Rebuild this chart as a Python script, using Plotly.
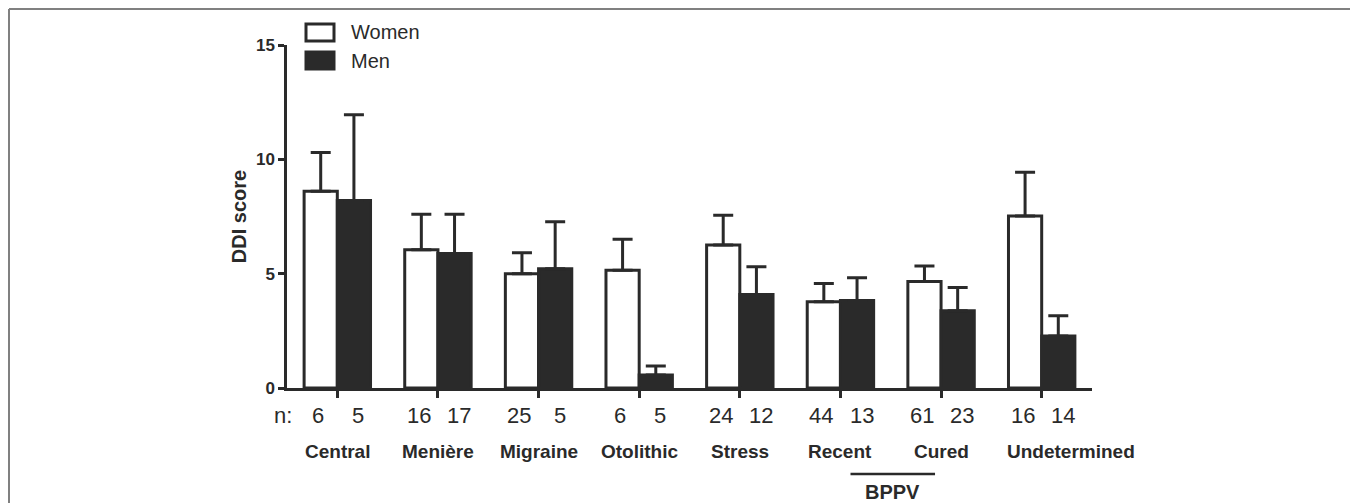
import plotly.graph_objects as go

categories = ["Central", "Menière", "Migraine", "Otolithic", "Stress", "Recent", "Cured", "Undetermined"]
women_mean = [8.6, 6.05, 5.0, 5.15, 6.25, 3.77, 4.66, 7.52]
women_upper = [10.3, 7.6, 5.92, 6.5, 7.55, 4.57, 5.33, 9.43]
men_mean = [8.2, 5.88, 5.22, 0.57, 4.09, 3.83, 3.38, 2.27]
men_upper = [11.95, 7.6, 7.27, 0.96, 5.3, 4.82, 4.4, 3.16]
women_n = [6, 16, 25, 6, 24, 44, 61, 16]
men_n = [5, 17, 5, 5, 12, 13, 23, 14]
series_names = ["Women", "Men"]
group_label = "BPPV"
group_members = ["Recent", "Cured"]

# page body has an 8px margin: build the figure so that it lands where the reference is
OFF = 8
W, H = 1358 - OFF, 503 - OFF
L, R, T, B = 287 - OFF, 266, 45 - OFF, 115
PW, PH = W - L - R, H - T - B
INK = "#2a2a2a"
FRAME = "#808080"
FONT = "Arial, Liberation Sans, Helvetica, sans-serif"


def px(xp):
    return (xp - OFF - L) / PW


def py(yp):
    return (H - B - (yp - OFF)) / PH


women_err = [u - m for u, m in zip(women_upper, women_mean)]
men_err = [u - m for u, m in zip(men_upper, men_mean)]
xi = list(range(len(categories)))

fig = go.Figure()
fig.add_trace(go.Bar(
    x=xi, y=women_mean, name=series_names[0],
    marker=dict(color="white", line=dict(color=INK, width=3)),
    error_y=dict(type="data", array=women_err, arrayminus=[0] * len(xi), symmetric=False,
                 color=INK, thickness=3, width=10),
    showlegend=False,
))
fig.add_trace(go.Bar(
    x=xi, y=men_mean, name=series_names[1],
    marker=dict(color=INK, line=dict(color=INK, width=3)),
    error_y=dict(type="data", array=men_err, arrayminus=[0] * len(xi), symmetric=False,
                 color=INK, thickness=3, width=10),
    showlegend=False,
))

annotations = []
shapes = []
# n counts
annotations.append(dict(text="n:", x=px(283), y=py(415), xref="paper", yref="paper",
                        showarrow=False, font=dict(size=22, color=INK), xanchor="center", yanchor="middle"))
for i in xi:
    annotations.append(dict(text=str(women_n[i]), x=i - 0.19, y=py(415), xref="x", yref="paper",
                            showarrow=False, font=dict(size=22, color=INK), xanchor="center", yanchor="middle"))
    annotations.append(dict(text=str(men_n[i]), x=i + 0.21, y=py(415), xref="x", yref="paper",
                            showarrow=False, font=dict(size=22, color=INK), xanchor="center", yanchor="middle"))

# category names (the last one is nudged right, as in the original)
for i, c in enumerate(categories):
    annotations.append(dict(text="<b>" + c + "</b>", x=i, y=py(451), xref="x", yref="paper",
                            xshift=29 if i == len(categories) - 1 else 0,
                            showarrow=False, font=dict(size=19, color=INK),
                            xanchor="center", yanchor="middle"))

# BPPV group bracket
gi = [categories.index(c) for c in group_members]
shapes.append(dict(type="line", xref="x", yref="paper", x0=gi[0] + 0.1, x1=gi[1] - 0.06,
                   y0=py(474), y1=py(474), line=dict(color=INK, width=2.5)))
annotations.append(dict(text="<b>" + group_label + "</b>", x=(gi[0] + gi[1]) / 2 + 0.02, y=py(492),
                        xref="x", yref="paper", showarrow=False,
                        font=dict(size=20, color=INK), xanchor="center", yanchor="middle"))

# Legend (manual)
legend_items = [(series_names[0], "white", 24, 41, 32), (series_names[1], INK, 52, 69, 61)]
for name, fill, y0, y1, yc in legend_items:
    shapes.append(dict(type="rect", xref="paper", yref="paper", x0=px(306), x1=px(334),
                       y0=py(y1), y1=py(y0), fillcolor=fill, line=dict(color=INK, width=3)))
    annotations.append(dict(text=name, x=px(349), y=py(yc), xref="paper", yref="paper",
                            showarrow=False, font=dict(size=20, color=INK), xanchor="left", yanchor="middle"))

# outer frame (top, left, right)
fx0, fx1, fy0, fy1 = 9, 1353, 9, 520
for (a, b, c, d) in [(fx0, fy0, fx1, fy0), (fx0, fy0, fx0, fy1), (fx1, fy0, fx1, fy1)]:
    shapes.append(dict(type="line", xref="paper", yref="paper", x0=px(a), y0=py(b), x1=px(c), y1=py(d),
                       line=dict(color=FRAME, width=2), layer="below"))

fig.update_layout(
    width=W, height=H,
    margin=dict(l=L, r=R, t=T, b=B, autoexpand=False),
    paper_bgcolor="white", plot_bgcolor="white",
    barmode="group", bargap=0.34, bargroupgap=0,
    font=dict(family=FONT, color=INK),
    annotations=annotations, shapes=shapes,
    xaxis=dict(
        range=[-0.5, len(categories) - 0.5],
        tickmode="array", tickvals=xi, ticktext=categories, showticklabels=False,
        ticks="outside", ticklen=7, tickwidth=2.5, tickcolor=INK,
        showline=True, linecolor=INK, linewidth=2.5,
        showgrid=False, zeroline=False,
    ),
    yaxis=dict(
        range=[0, 15], tickvals=[0, 5, 10, 15],
        tickfont=dict(size=17, weight="bold", color=INK),
        ticks="outside", ticklen=6, tickwidth=2.5, tickcolor=INK,
        showline=True, linecolor=INK, linewidth=2.5,
        showgrid=False, zeroline=False,
        title=dict(text="DDI score", font=dict(size=20, weight="bold", color=INK), standoff=4),
    ),
)

fig.write_html("out.html")
